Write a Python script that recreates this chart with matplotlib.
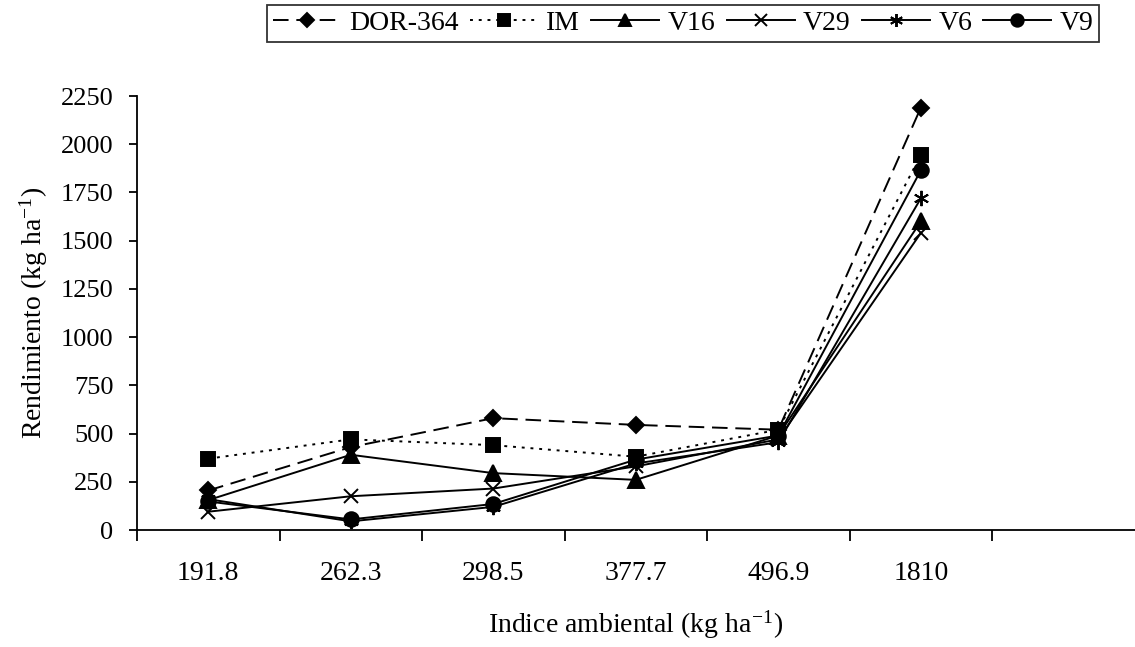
import numpy as np
import matplotlib
matplotlib.use("Agg")
import matplotlib.pyplot as plt

plt.rcParams['font.family'] = ['Liberation Serif', 'DejaVu Serif']
plt.rcParams['mathtext.fontset'] = 'stix'

# environmental index categories (x axis)
indices = ['191.8', '262.3', '298.5', '377.7', '496.9', '1810']

# yield per genotype (kg/ha)
dor364 = [205, 430, 580, 545, 520, 2190]
im = [370, 470, 440, 380, 520, 1945]
v16 = [155, 390, 295, 260, 490, 1600]
v29 = [95, 175, 215, 330, 470, 1540]
v6 = [160, 45, 120, 345, 455, 1720]
v9 = [148, 55, 135, 365, 490, 1865]

# name, values, marker, marker size, line style
series = [
    ('DOR-364', dor364, 'D', 8, (0, (8, 4))),
    ('IM', im, 's', 10, (0, (1.5, 3))),
    ('V16', v16, '^', 11, '-'),
    ('V29', v29, 'x', 10, '-'),
    ('V6', v6, (6, 2, 0), 11, '-'),
    ('V9', v9, 'o', 10.5, '-'),
]

fig = plt.figure(figsize=(11.35, 6.47), dpi=100)
ax = fig.add_axes([0.1207, 0.1808, 0.879, 0.6708])

x = np.arange(len(indices))
for name, vals, mk, ms, ls in series:
    ax.plot(x, vals, color='black', linestyle=ls, linewidth=1.4,
            marker=mk, markersize=ms, markeredgewidth=1.4, label=name)

ax.set_xlim(-0.5, 6.5)
ax.set_ylim(0, 2250)
ax.set_yticks(np.arange(0, 2251, 250))
ax.set_xticks(np.arange(-0.5, 6.0, 1.0))
ax.set_xticklabels([])
ax.set_xticks(x, minor=True)
ax.set_xticklabels(indices, minor=True)
ax.tick_params(axis='x', which='minor', length=0, pad=22, labelsize=20)
ax.tick_params(axis='x', which='major', length=8, width=1.3)
ax.tick_params(axis='y', length=6, width=1.3, labelsize=19, pad=11)

for s in ['top', 'right']:
    ax.spines[s].set_visible(False)
for s in ['left', 'bottom']:
    ax.spines[s].set_linewidth(1.3)

ax.set_ylabel('Rendimiento (kg ha$^{\\mathregular{-1}}$)', fontsize=20, labelpad=8)
ax.set_xlabel('Indice ambiental (kg ha$^{\\mathregular{-1}}$)', fontsize=20, labelpad=16)

leg = fig.legend(loc='upper center', bbox_to_anchor=(0.602, 0.992), ncol=6,
                 fontsize=20, frameon=True, fancybox=False, edgecolor='black',
                 handlelength=2.45, handletextpad=0.3, columnspacing=0.4,
                 markerscale=0.85, borderpad=0.2, borderaxespad=0.0)
leg.get_frame().set_linewidth(1.3)

fig.savefig('out.png', dpi=100)
